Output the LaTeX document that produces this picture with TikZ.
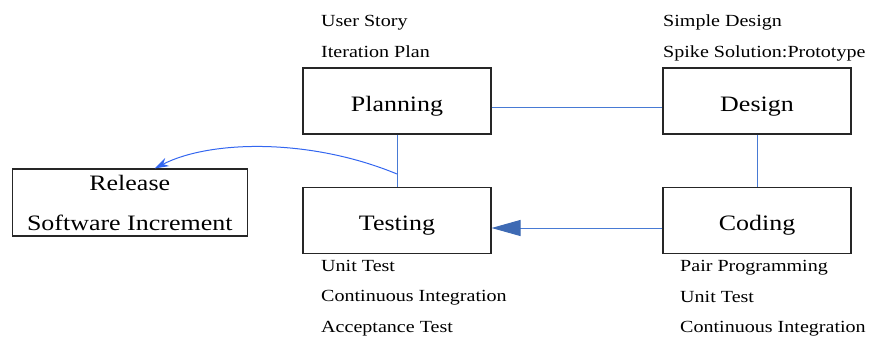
\documentclass[tikz,border=0pt]{standalone}
\usepackage{fontspec}
\setmainfont{Liberation Serif}[FakeStretch=1.18]
\usetikzlibrary{arrows.meta}
\definecolor{lineblue}{RGB}{72,122,212}
\definecolor{curveblue}{RGB}{51,102,240}
\definecolor{headblue}{RGB}{62,106,180}

\begin{document}
\begin{tikzpicture}[x=1pt,y=-1pt,
    box/.style={draw=black!85, line width=1.1pt, inner sep=0pt, font=\fontsize{22}{40}\selectfont},
    phase/.style={box, minimum width=188pt, minimum height=66pt, text height=24pt, text depth=4pt},
    practice/.style={anchor=base west, inner sep=0pt, font=\fontsize{17}{20}\selectfont},
    link/.style={lineblue, line width=1pt}]

	\useasboundingbox (0,0) rectangle (869,337);

	% phases
	\node[phase] (P) at (397,101) {Planning};
	\node[phase] (D) at (757,101) {Design};
	\node[phase] (T) at (397,220.5) {Testing};
	\node[phase] (C) at (757,220.5) {Coding};
	\node[box, minimum width=235pt, minimum height=67pt, align=center] (R) at (129.75,202.5) {Release\\Software Increment};

	% practices
	\node[practice] (us) at (321,27) {User Story};
	\node[practice] (ip) at (321,57) {Iteration Plan};
	\node[practice] (sd) at (663,27) {Simple Design};
	\node[practice] (ss) at (663,57) {Spike Solution:Prototype};
	\node[practice] (ut) at (321,271) {Unit Test};
	\node[practice] (ci) at (321,301) {Continuous Integration};
	\node[practice] (acc) at (321,332) {Acceptance Test};
	\node[practice] (pp) at (680,271) {Pair Programming};
	\node[practice] (ut2) at (680,302) {Unit Test};
	\node[practice] (ci2) at (680,332) {Continuous Integration};

	% links
	\draw[link] ([yshift=-6pt]P.east) -- ([yshift=-6pt]D.west);
	\draw[link] (D) -- (C);
	\draw[link] (P) -- (T);
	\draw[link, -{Triangle[length=29pt, width=16pt, color=headblue]}] ([yshift=-7.5pt]C.west) -- ([yshift=-7.5pt]T.east);

	\coordinate (fork) at (397,174);
	\draw[curveblue, line width=1pt, -{Stealth[length=14pt, width=9pt]}] (fork) .. controls (310,138) and (210,140) .. ([xshift=25pt]R.north);
\end{tikzpicture}
\end{document}
